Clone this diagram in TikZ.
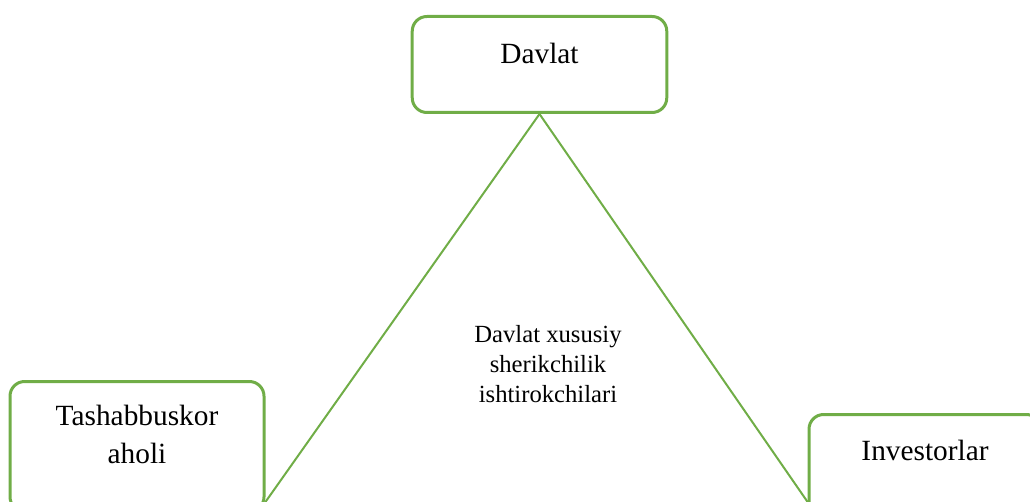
\documentclass[tikz,border=0pt]{standalone}
\usepackage{fontspec}
\setmainfont{Liberation Serif}
\definecolor{leaf}{HTML}{70AD47}
\begin{document}
\begin{tikzpicture}[x=0.75pt,y=-0.75pt,
  part/.style={rectangle,draw=leaf,line width=2.25pt,rounded corners=11pt,inner sep=0pt,align=center,anchor=north,font=\fontsize{22}{28.5}\selectfont},
  tie/.style={draw=leaf,line width=1.5pt}]
  \useasboundingbox (0,0) rectangle (1030,502);
  \clip (0,0) rectangle (1030,502);
  \node[part,minimum width=190.9pt,text height=35.25pt,text depth=36.75pt] (davlat) at (539.5,15) {Davlat};
  \node[part,minimum width=190.5pt,text height=61.5pt,text depth=36pt] (aholi) at (137,380) {Tashabbuskor\\aholi};
  \node[part,minimum width=174pt,text height=34.5pt,text depth=40.5pt] (investor) at (925,413) {Investorlar};
  \node[align=center,font=\fontsize{18.5}{22.5}\selectfont] (members) at (548,364) {Davlat xususiy\\sherikchilik\\ishtirokchilari};
  \coordinate (lft) at (264,504);
  \coordinate (rgt) at (809,504);
  \draw[tie] (davlat.south) -- (lft);
  \draw[tie] (davlat.south) -- (rgt);
\end{tikzpicture}
\end{document}
